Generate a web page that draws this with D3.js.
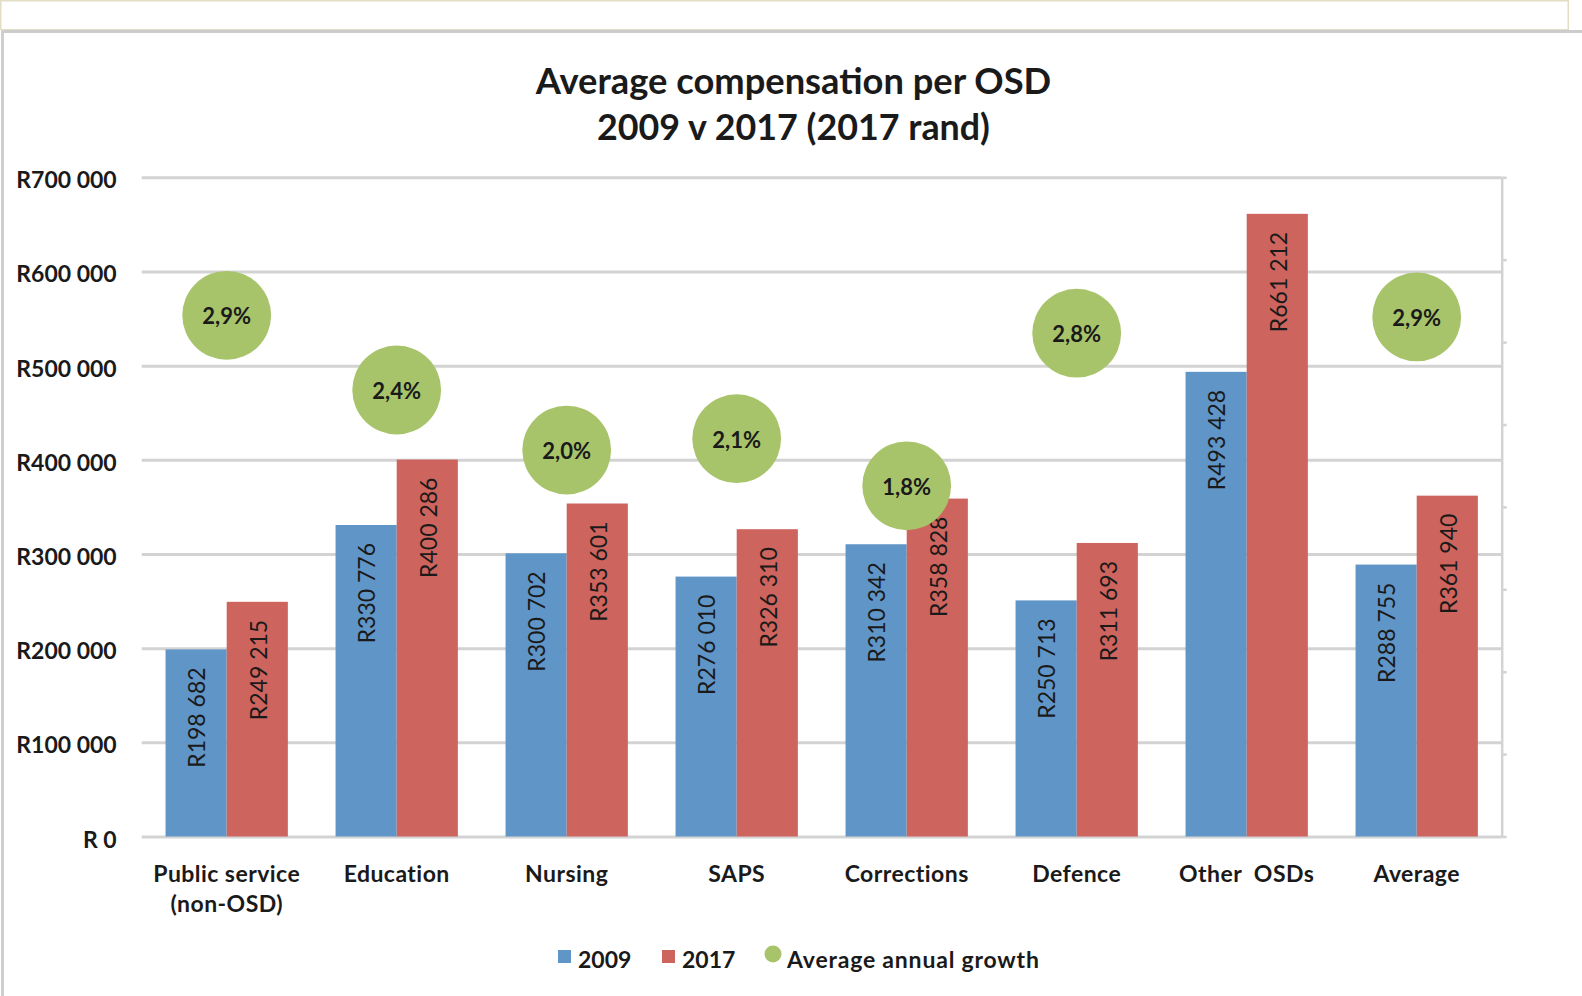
<!DOCTYPE html>
<html>
<head>
<meta charset="utf-8">
<script src="https://cdn.jsdelivr.net/npm/d3@7"></script>
<style>
  html, body { margin: 0; padding: 0; background: #ffffff; }
  svg { display: block; }
  text { font-family: "Lato", "Open Sans", sans-serif; fill: #1a1a1a; }
</style>
</head>
<body>
<svg id="chart" width="1582" height="996"></svg>
<script>
// ---- data ----
const categories = [["Public service", "(non-OSD)"], ["Education"], ["Nursing"], ["SAPS"], ["Corrections"], ["Defence"], ["Other  OSDs"], ["Average"]];
const series = ["2009", "2017"];
const values2009 = [198682, 330776, 300702, 276010, 310342, 250713, 493428, 288755];
const values2017 = [249215, 400286, 353601, 326310, 358828, 311693, 661212, 361940];
const growth = [2.87, 2.41, 2.04, 2.11, 1.82, 2.76, null, 2.86];
const yTicks = [0, 100000, 200000, 300000, 400000, 500000, 600000, 700000];
const titleLines = ["Average compensation per OSD", "2009 v 2017 (2017 rand)"];
const legendLabels = ["2009", "2017", "Average annual growth"];

// ---- styles ----
const colors = { "2009": "#6095c8", "2017": "#cd645e", growth: "#a8c46a" };
const gridColor = "#d3d3d3";

const svg = d3.select("#chart");

// outer frame
svg.append("rect").attr("x", 0.75).attr("y", 0.75).attr("width", 1567.5).attr("height", 29)
  .attr("fill", "none").attr("stroke", "#e2dec6").attr("stroke-width", 1.5);
svg.append("rect").attr("x", 0).attr("y", 30).attr("width", 1582).attr("height", 966).attr("fill", "#ffffff");
svg.append("line").attr("x1", 1).attr("x2", 1582).attr("y1", 31.5).attr("y2", 31.5)
  .attr("stroke", "#cccccc").attr("stroke-width", 3);
svg.append("line").attr("x1", 2.5).attr("x2", 2.5).attr("y1", 30).attr("y2", 996)
  .attr("stroke", "#cfcfcf").attr("stroke-width", 3);

// ---- scales ----
const plot = { left: 141.7, right: 1501.7, top: 177.3, bottom: 836.5 };
const x0 = d3.scaleBand().domain(d3.range(categories.length)).range([plot.left, plot.right]).padding(0);
const x1 = d3.scaleBand().domain(series).range([0, x0.bandwidth()]).paddingInner(0).paddingOuter(0.39);
const y = d3.scaleLinear().domain([0, 700000]).range([plot.bottom, plot.top]);
const yG = d3.scaleLinear().domain([-0.34, 3.72]).range([plot.bottom, plot.top]);

// gridlines
const yAxisG = svg.append("g").attr("transform", `translate(${plot.left},0)`)
  .call(d3.axisLeft(y).tickValues(yTicks).tickSize(-(plot.right - plot.left)).tickFormat(""));
yAxisG.select(".domain").remove();
yAxisG.selectAll(".tick line").attr("stroke", gridColor).attr("stroke-width", 3);

// y tick labels
svg.append("g").selectAll("text").data(yTicks).join("text")
  .attr("x", 116.7).attr("y", d => y(d) + 11)
  .attr("text-anchor", "end").attr("font-size", 23).attr("font-weight", 700)
  .text(d => d === 0 ? "R 0" : "R" + d3.format(",")(d).replace(/,/g, " "));

// right (secondary) axis
const gStep = (yG.domain()[1] - yG.domain()[0]) / 8;
const rTicks = d3.range(9).map(i => yG.domain()[0] + i * gStep);
const rAxis = svg.append("g").attr("transform", `translate(${plot.right},0)`)
  .call(d3.axisRight(yG).tickValues(rTicks).tickSize(5).tickSizeOuter(0).tickFormat(""));
rAxis.select(".domain").attr("stroke", gridColor).attr("stroke-width", 2.5);
rAxis.selectAll(".tick line").attr("stroke", gridColor).attr("stroke-width", 2.5);

// bars
const groups = svg.append("g").selectAll("g").data(categories.map((c, i) => i)).join("g")
  .attr("transform", i => `translate(${x0(i)},0)`);
const barData = i => [{ s: "2009", v: values2009[i] }, { s: "2017", v: values2017[i] }];
groups.selectAll("rect").data(barData).join("rect")
  .attr("x", d => x1(d.s)).attr("width", x1.bandwidth())
  .attr("y", d => y(d.v)).attr("height", d => y(0) - y(d.v))
  .attr("fill", d => colors[d.s]);

// bar value labels
groups.selectAll("text").data(barData).join("text")
  .attr("transform", d => `translate(${x1(d.s) + x1.bandwidth() / 2 + 1},${y(d.v) + 18}) rotate(-90)`)
  .attr("text-anchor", "end").attr("dy", "0.36em")
  .attr("font-size", 23).attr("font-weight", 400)
  .text(d => "R" + d3.format(",")(d.v).replace(/,/g, " "));

// growth bubbles
const gData = growth.map((g, i) => ({ g, i })).filter(d => d.g !== null);
const bub = svg.append("g").selectAll("g").data(gData).join("g")
  .attr("transform", d => `translate(${x0(d.i) + x0.bandwidth() / 2},${yG(d.g)})`);
bub.append("circle").attr("r", 44.4).attr("fill", colors.growth);
bub.append("text").attr("text-anchor", "middle").attr("y", 9)
  .attr("font-size", 22).attr("font-weight", 700)
  .text(d => d.g.toFixed(1).replace(".", ",") + "%");

// category labels
const cat = svg.append("g").selectAll("text").data(categories.map((c, i) => ({ c, i }))).join("text")
  .attr("text-anchor", "middle").attr("font-size", 23).attr("font-weight", 700)
  .attr("letter-spacing", 0.45)
  .style("white-space", "pre");
cat.selectAll("tspan").data(d => d.c.map((line, k) => ({ line, k, i: d.i }))).join("tspan")
  .attr("x", d => x0(d.i) + x0.bandwidth() / 2)
  .attr("y", d => 881.5 + d.k * 30)
  .text(d => d.line);

// title
const title = svg.append("g").selectAll("text").data(titleLines).join("text")
  .attr("x", 793.5).attr("y", (d, k) => 94 + k * 46)
  .attr("text-anchor", "middle").attr("font-size", 30).attr("font-weight", 700)
  .text(d => d);
const titleTargets = [515.6, 393];
title.each(function (d, k) {
  const w = this.getComputedTextLength();
  if (w > 0) d3.select(this).attr("font-size", 30 * titleTargets[k] / w);
});

// legend
const leg = svg.append("g");
const legItems = [
  { label: legendLabels[0], type: "rect", color: colors["2009"], x: 558 },
  { label: legendLabels[1], type: "rect", color: colors["2017"], x: 662 },
  { label: legendLabels[2], type: "circle", color: colors.growth, x: 765 }
];
legItems.forEach(it => {
  if (it.type === "rect") {
    leg.append("rect").attr("x", it.x).attr("y", 950).attr("width", 13).attr("height", 13).attr("fill", it.color);
  } else {
    leg.append("circle").attr("cx", it.x + 8).attr("cy", 954).attr("r", 8.5).attr("fill", it.color);
  }
  leg.append("text").attr("x", it.x + (it.type === "rect" ? 20 : 22)).attr("y", 968)
    .attr("font-size", 23).attr("font-weight", 700)
    .attr("letter-spacing", it.type === "rect" ? 0 : 0.8)
    .text(it.label);
});
</script>
</body>
</html>
